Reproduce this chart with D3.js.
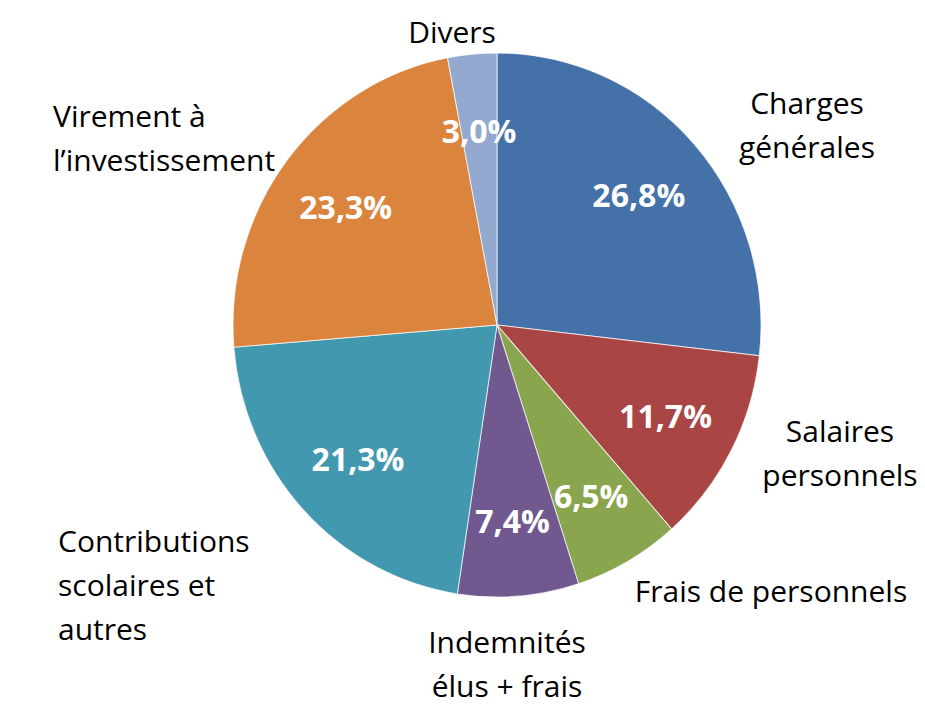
<!DOCTYPE html>
<html>
<head>
<meta charset="utf-8">
<script src="https://cdn.jsdelivr.net/npm/d3@7"></script>
<style>
  body { margin: 0; background: #fff; }
  svg text { font-family: "Open Sans", Lato, sans-serif; }
</style>
</head>
<body>
<div id="chart"></div>
<script>
// Chart data
const categories = ["Charges générales", "Salaires personnels", "Frais de personnels",
  "Indemnités élus + frais", "Contributions scolaires et autres",
  "Virement à l’investissement", "Divers"];
const values = [26.8, 11.7, 6.5, 7.4, 21.3, 23.3, 3.0];
const colors = ["#4472a8", "#a94645", "#89a54e", "#71588f", "#4198af", "#db843d", "#93a9d0"];

// Label lines and where each category label sits
const labelLines = [
  ["Charges", "générales"],
  ["Salaires", "personnels"],
  ["Frais de personnels"],
  ["Indemnités", "élus + frais"],
  ["Contributions", "scolaires et", "autres"],
  ["Virement à", "l’investissement"],
  ["Divers"]
];
const labelPos = [
  { x: 807, y: 102, anchor: "middle" },
  { x: 840, y: 430, anchor: "middle" },
  { x: 771, y: 590, anchor: "middle" },
  { x: 507, y: 641, anchor: "middle" },
  { x: 58, y: 540, anchor: "start" },
  { x: 53, y: 115, anchor: "start" },
  { x: 452, y: 31, anchor: "middle" }
];

const width = 925, height = 705;
const cx = 497, cy = 325;
const radius = 264;
const yStretch = 272 / 264;
const lineGap = 44;

const data = values.map((v, i) => ({ name: categories[i], value: v, i }));

const svg = d3.select("#chart").append("svg")
  .attr("width", width)
  .attr("height", height);

const pie = d3.pie().sort(null).value(d => d.value);
const arc = d3.arc().innerRadius(0).outerRadius(radius);
const labelArc = d3.arc().innerRadius(radius * 0.72).outerRadius(radius * 0.72);

const arcs = pie(data);

const g = svg.append("g")
  .attr("transform", `translate(${cx},${cy}) scale(1,${yStretch})`);

g.selectAll("path")
  .data(arcs)
  .enter()
  .append("path")
  .attr("d", arc)
  .attr("fill", d => colors[d.data.i])
  .attr("stroke", "#ffffff")
  .attr("stroke-opacity", 0.7)
  .attr("stroke-width", 1);

// Percent labels inside slices
svg.selectAll("text.pct")
  .data(arcs)
  .enter()
  .append("text")
  .attr("class", "pct")
  .attr("x", d => cx + labelArc.centroid(d)[0])
  .attr("y", d => cy + labelArc.centroid(d)[1] * yStretch)
  .attr("text-anchor", "middle")
  .attr("dominant-baseline", "central")
  .attr("fill", "#ffffff")
  .attr("font-weight", "bold")
  .attr("font-size", 32)
  .text(d => d.data.value.toFixed(1).replace(".", ",") + "%");

// Category labels
labelLines.forEach((lines, i) => {
  const t = svg.append("text")
    .attr("class", "cat")
    .attr("text-anchor", labelPos[i].anchor)
    .attr("fill", "#000")
    .attr("font-size", 30);
  lines.forEach((line, j) => {
    t.append("tspan")
      .attr("x", labelPos[i].x)
      .attr("y", labelPos[i].y + j * lineGap)
      .attr("dominant-baseline", "central")
      .text(line);
  });
});
</script>
</body>
</html>
